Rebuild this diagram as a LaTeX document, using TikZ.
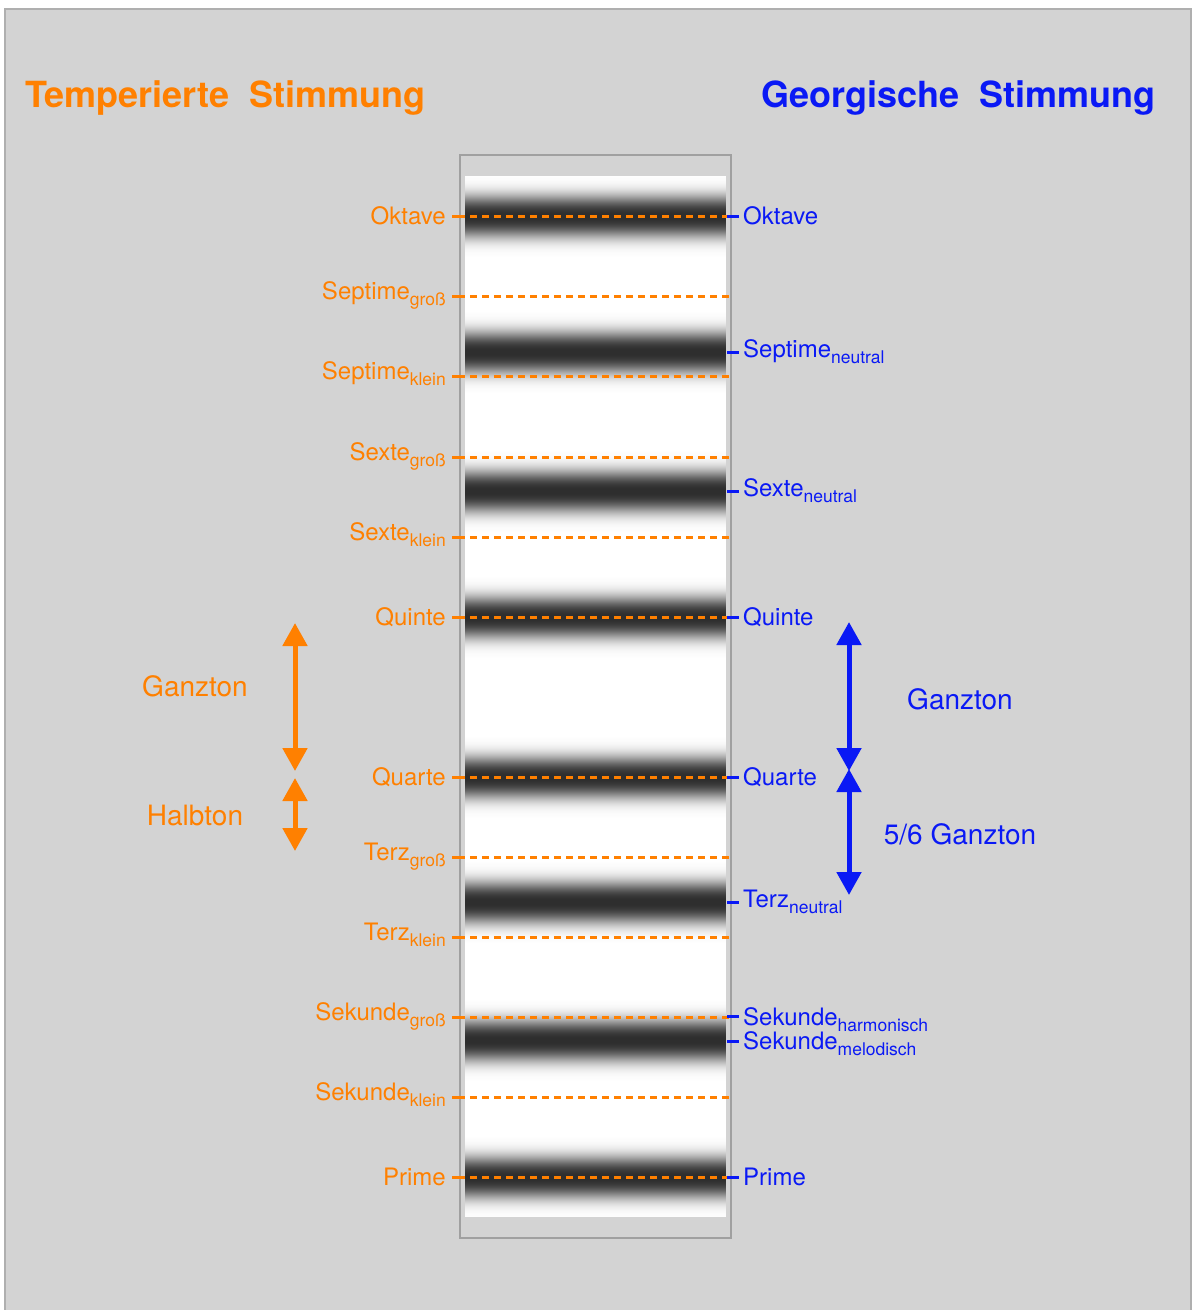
\documentclass[tikz,border=0pt]{standalone}
\usepackage{fontspec}
\setmainfont{TeX Gyre Heros}
\usetikzlibrary{arrows.meta}
\definecolor{torange}{RGB}{255,128,0}
\definecolor{tblue}{RGB}{10,25,245}
\definecolor{bggray}{RGB}{211,211,211}
\definecolor{framegray}{RGB}{175,175,175}
\definecolor{boxgray}{RGB}{160,160,160}
\newcommand\lsub[1]{\raisebox{-6pt}{\fontsize{17.5}{18}\selectfont #1}}
\begin{document}
\begin{tikzpicture}[x=1pt,y=-1pt,
  title/.style={inner sep=0pt,font=\fontsize{36}{40}\selectfont\bfseries},
  olab/.style={inner sep=0pt,anchor=base east,text=torange,font=\fontsize{24}{28}\selectfont},
  blab/.style={inner sep=0pt,anchor=base west,text=tblue,font=\fontsize{24}{28}\selectfont},
  intlab/.style={inner sep=0pt,font=\fontsize{28}{32}\selectfont},
  otick/.style={draw=torange,line width=3pt},
  odash/.style={draw=torange,line width=3pt,dash pattern=on 7pt off 5pt,dash phase=7pt},
  btick/.style={draw=tblue,line width=3pt},
  darr/.style={line width=5pt,{Triangle[width=24pt,length=23pt]}-{Triangle[width=24pt,length=23pt]}}
]
\useasboundingbox (0,0) rectangle (1192,1310);
\fill[white] (0,0) rectangle (1192,1310);
\filldraw[fill=bggray,draw=framegray,line width=1.2pt] (5,9) rectangle (1191,1316);

% central box
\filldraw[fill=bggray,draw=boxgray,line width=1.2pt] (460,155) rectangle (731,1238);
\fill[white] (465,176) rectangle (726,1217);

% blurred bands
\foreach \c in {216,352,491,617,777,902,1040,1177}{
  \foreach \d in {-40,...,40}{
    \pgfmathsetmacro\t{abs(\d)/21}
    \pgfmathsetmacro\g{82*exp(-\t*\t*sqrt(\t))}
    \fill[black!\g] (465,\c+\d-0.5) rectangle (726,\c+\d+0.6);
  }
}
\fill[bggray] (465,170) rectangle (726,176);
\fill[bggray] (465,1217) rectangle (726,1222);
\draw[boxgray,line width=1.2pt] (460,155) rectangle (731,1238);

% titles
\node[title,text=torange,anchor=base west] (tleft) at (25,107) {Temperierte\hspace{0.56em}Stimmung};
\node[title,text=tblue,anchor=base east] (tright) at (1156,107) {Georgische\hspace{0.56em}Stimmung};

% tempered lines (orange)
\foreach \n/\y in {a/216,b/296,c/376,d/457,e/537,f/617,g/777,h/857,i/937,j/1017,k/1097,l/1177}{
  \coordinate (oA\n) at (452,\y);
  \coordinate (oB\n) at (465,\y);
  \coordinate (oC\n) at (731,\y);
  \draw[otick] (oA\n) -- (oB\n);
  \draw[odash] (oB\n) -- (oC\n);
}

% left labels
\node[olab] (lOkt) at (446,224.5) {Oktave};
\node[olab] (lSepg) at (446,299) {Septime\lsub{groß}};
\node[olab] (lSepk) at (446,379) {Septime\lsub{klein}};
\node[olab] (lSexg) at (446,460) {Sexte\lsub{groß}};
\node[olab] (lSexk) at (446,540) {Sexte\lsub{klein}};
\node[olab] (lQui) at (446,625.5) {Quinte};
\node[olab] (lQua) at (446,785.5) {Quarte};
\node[olab] (lTeg) at (446,860) {Terz\lsub{groß}};
\node[olab] (lTek) at (446,940) {Terz\lsub{klein}};
\node[olab] (lSeg) at (446,1020) {Sekunde\lsub{groß}};
\node[olab] (lSek) at (446,1100) {Sekunde\lsub{klein}};
\node[olab] (lPri) at (446,1185.5) {Prime};

% georgian ticks (blue)
\foreach \n/\y in {a/216,b/352,c/491,d/617,e/777,f/902,g/1016,h/1041,i/1177}{
  \coordinate (bA\n) at (727,\y);
  \coordinate (bB\n) at (739,\y);
  \draw[btick] (bA\n) -- (bB\n);
}

% right labels
\node[blab] (rOkt) at (743,224.5) {Oktave};
\node[blab] (rSep) at (743,357) {Septime\lsub{neutral}};
\node[blab] (rSex) at (743,496) {Sexte\lsub{neutral}};
\node[blab] (rQui) at (743,625.5) {Quinte};
\node[blab] (rQua) at (743,785.5) {Quarte};
\node[blab] (rTer) at (743,907) {Terz\lsub{neutral}};
\node[blab] (rSeh) at (743,1025) {Sekunde\lsub{harmonisch}};
\node[blab] (rSem) at (743,1049) {Sekunde\lsub{melodisch}};
\node[blab] (rPri) at (743,1185.5) {Prime};

% interval arrows
\coordinate (oG1) at (295,623);
\coordinate (oG2) at (295,771);
\coordinate (oH1) at (295,778);
\coordinate (oH2) at (295,851);
\draw[darr,torange] (oG1) -- (oG2);
\draw[darr,torange] (oH1) -- (oH2);
\node[intlab,text=torange] (lGanz) at (195,686) {Ganzton};
\node[intlab,text=torange] (lHalb) at (195,815) {Halbton};

\coordinate (bG1) at (849,622);
\coordinate (bG2) at (849,771);
\coordinate (bF1) at (849,769);
\coordinate (bF2) at (849,895);
\draw[darr,tblue] (bG1) -- (bG2);
\draw[darr,tblue] (bF1) -- (bF2);
\node[intlab,text=tblue] (rGanz) at (960,699) {Ganzton};
\node[intlab,text=tblue] (rFuenf) at (960,834) {5/6 Ganzton};
\end{tikzpicture}
\end{document}
